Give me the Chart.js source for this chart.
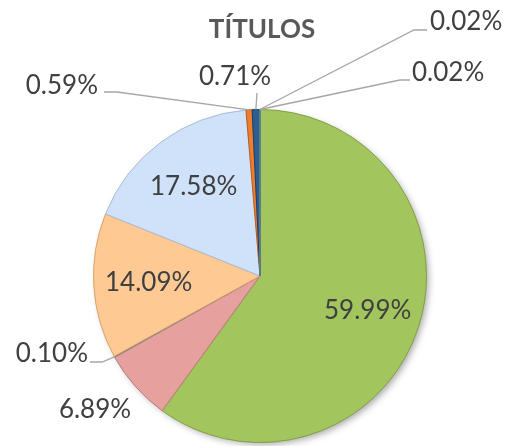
<!DOCTYPE html>
<html>
<head>
<meta charset="utf-8">
<script src="https://cdn.jsdelivr.net/npm/chart.js@4/dist/chart.umd.min.js"></script>
<style>
  html, body { margin: 0; padding: 0; background: #fff; }
  #wrap { width: 507px; height: 446px; }
</style>
</head>
<body>
<div id="wrap"><canvas id="chart" width="507" height="446"></canvas></div>
<script>
// Data
const title = 'TÍTULOS'
const categories = ['Título 1', 'Título 2', 'Título 3', 'Título 4', 'Título 5', 'Título 6', 'Título 7', 'Título 8', 'Título 9']
const shares = [59.99, 6.89, 0.1, 14.09, 17.58, 0.59, 0.71, 0.02, 0.02]
const labels = ['59.99%', '6.89%', '0.10%', '14.09%', '17.58%', '0.59%', '0.71%', '0.02%', '0.02%']

// Styles
const fills = ['#A2C55E', '#E6A19F', '#A5A5A5', '#FFC994', '#CFE2F9', '#ED7D31', '#2E5E91', '#FFC000', '#5B9BD5']
const borders = ['#7F9E45', '#B87A78', '#808080', '#D9A26E', '#A9BCD6', '#B85E20', '#1D3F66', '#C99700', '#3E78AC']

// label placement: inside at a fraction of the radius, or outside with a leader
const labelLayout = [
  { inside: 0.68 },
  { tx: 95, ty: 410, align: 'center' },
  { tx: 88, ty: 354, align: 'right', line: [[90, 362], [102, 362]] },
  { inside: 0.67 },
  { inside: 0.67 },
  { tx: 98, ty: 86, align: 'right', line: [[104, 92], [117, 92]] },
  { tx: 235, ty: 77, align: 'center', line: [[257, 93]] },
  { tx: 430, ty: 22, align: 'left', line: [[427, 30], [414, 30]] },
  { tx: 412, ty: 73, align: 'left', line: [[410, 80], [400, 80]] },
]

const labelFont = '26px Lato, "Open Sans", sans-serif'
const titleFont = 'bold 26px Lato, "Open Sans", sans-serif'

const pieShadow = {
  id: 'pieShadow',
  beforeDatasetsDraw(chart) {
    const arc = chart.getDatasetMeta(0).data[0]
    if (!arc) return
    const { x, y, outerRadius } = arc.getProps(['x', 'y', 'outerRadius'], true)
    const ctx = chart.ctx
    ctx.save()
    ctx.shadowColor = 'rgba(0,0,0,0.35)'
    ctx.shadowBlur = 7
    ctx.shadowOffsetX = 3
    ctx.shadowOffsetY = 3
    ctx.fillStyle = '#fff'
    ctx.beginPath()
    ctx.arc(x, y, outerRadius - 1, 0, Math.PI * 2)
    ctx.fill()
    ctx.restore()
  },
}

const pieLabels = {
  id: 'pieLabels',
  afterDatasetsDraw(chart) {
    const ctx = chart.ctx
    const arcs = chart.getDatasetMeta(0).data
    ctx.save()

    // title
    ctx.font = titleFont
    ctx.fillStyle = '#595959'
    ctx.textAlign = 'center'
    ctx.textBaseline = 'middle'
    ctx.fillText(title, 262, 30)

    ctx.font = labelFont
    ctx.fillStyle = '#404040'
    arcs.forEach((arc, i) => {
      const { x, y, startAngle, endAngle, outerRadius } = arc.getProps(
        ['x', 'y', 'startAngle', 'endAngle', 'outerRadius'],
        true
      )
      const mid = (startAngle + endAngle) / 2
      const lay = labelLayout[i]
      if (lay.inside) {
        const r = outerRadius * lay.inside
        ctx.textAlign = 'center'
        ctx.fillText(labels[i], x + Math.cos(mid) * r, y + Math.sin(mid) * r)
        return
      }
      if (lay.line) {
        const ax = x + Math.cos(mid) * outerRadius
        const ay = y + Math.sin(mid) * outerRadius
        ctx.strokeStyle = '#A6A6A6'
        ctx.lineWidth = 1.3
        ctx.beginPath()
        ctx.moveTo(lay.line[0][0], lay.line[0][1])
        lay.line.slice(1).forEach((p) => ctx.lineTo(p[0], p[1]))
        ctx.lineTo(ax, ay)
        ctx.stroke()
      }
      ctx.textAlign = lay.align
      ctx.fillText(labels[i], lay.tx, lay.ty)
    })
    ctx.restore()
  },
}

new Chart(document.getElementById('chart'), {
  type: 'pie',
  data: {
    labels: categories,
    datasets: [
      {
        data: shares,
        backgroundColor: fills,
        borderColor: borders,
        borderWidth: 1,
      },
    ],
  },
  options: {
    responsive: false,
    animation: false,
    layout: {
      padding: { left: 93, right: 80, top: 109, bottom: 3 },
    },
    plugins: {
      legend: { display: false },
      tooltip: { enabled: false },
      title: { display: false },
    },
  },
  plugins: [pieShadow, pieLabels],
})
</script>
</body>
</html>
